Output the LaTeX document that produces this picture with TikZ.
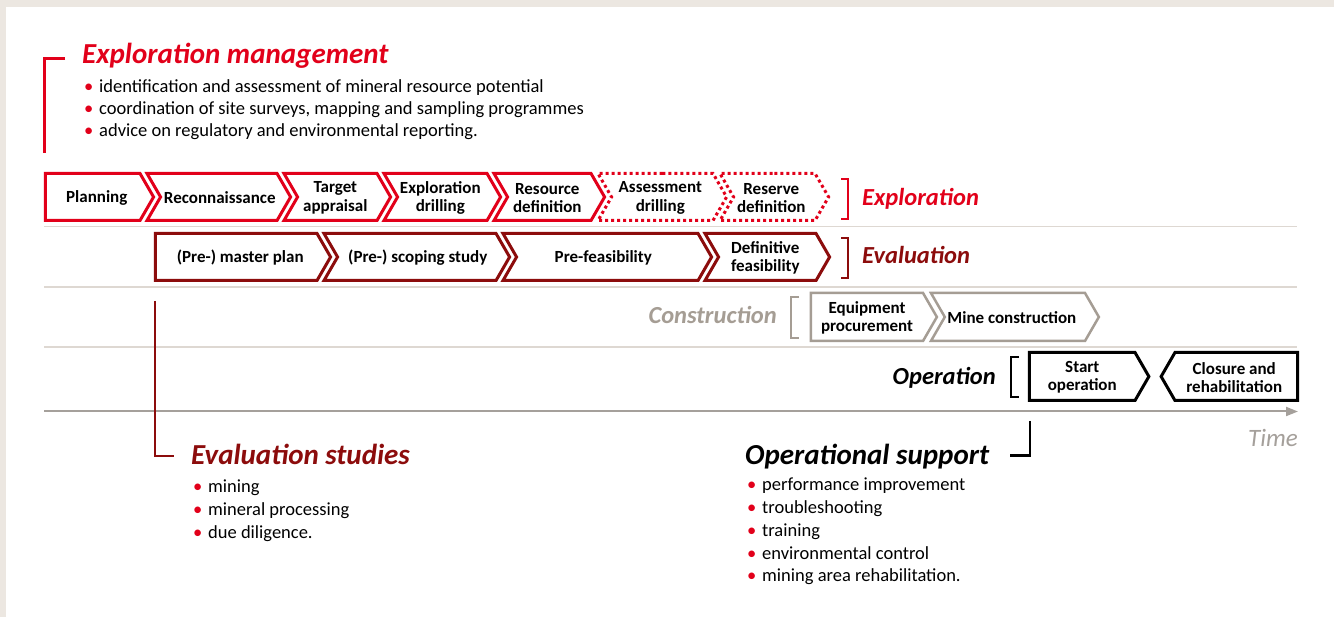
\documentclass[tikz,border=0pt]{standalone}
\usepackage{fontspec}
\setmainfont{Carlito}
\usepackage{tikz}
\usetikzlibrary{shapes.symbols,arrows.meta}

\definecolor{expred}{RGB}{226,0,26}
\definecolor{evalred}{RGB}{140,12,12}
\definecolor{congrey}{RGB}{165,157,148}
\definecolor{sepgrey}{RGB}{222,216,210}
\definecolor{axisgrey}{RGB}{165,160,155}
\definecolor{bgbeige}{RGB}{236,231,225}

\newcommand\bul{\makebox[15pt][l]{\textcolor{expred}{\textbullet}}}

\begin{document}
\begin{tikzpicture}[
        x=1pt, y=-1pt,
        stage/.style={signal, signal pointer angle=120, signal to=east,
            signal from=west, line width=3pt, fill=white, inner sep=0pt,
            minimum height=47pt},
        stagetext/.style={font=\bfseries\fontsize{17}{18.5}\selectfont,
            align=center, xshift=#1, yshift=-1pt},
        stagetext/.default=-2pt,
        expbox/.style={stage, draw=expred},
        expplan/.style={stage, draw=expred, dash pattern=on 3pt off 3pt},
        evalbox/.style={stage, draw=evalred},
        conbox/.style={stage, draw=congrey, line width=2.5pt, minimum height=48pt},
        opbox/.style={stage, draw=black, minimum height=48pt},
        heading/.style={font=\bfseries\itshape\fontsize{29}{30}\selectfont,
            anchor=base west, inner sep=0pt},
        rowlabel/.style={font=\bfseries\itshape\fontsize{24.5}{26}\selectfont,
            inner sep=0pt},
        bulletitem/.style={font=\fontsize{18.5}{22}\selectfont,
            anchor=base west, inner sep=0pt},
        brk/.style={line width=1.5pt},
        bigbrk/.style={line width=2.5pt},
        rowsep/.style={sepgrey, line width=1.5pt},
    ]
    \useasboundingbox (0,0) rectangle (1334,617);
    % frame
    \fill[bgbeige] (0,0) rectangle (1334,617);
    \fill[white] (6,7) rectangle (1334,617);

    % row separators and time axis
    \draw[rowsep] (44,226.5) -- (1297,226.5);
    \draw[rowsep] (44,287) -- (1297,287);
    \draw[rowsep] (44,347) -- (1297,347);
    \draw[axisgrey, line width=2pt, -{Triangle[length=12pt,width=9pt]}]
        (44,411.5) coordinate (axstart) -- (1298,411.5) coordinate (axend);
    \node[font=\itshape\fontsize{25}{26}\selectfont, anchor=base east,
        text=axisgrey, inner sep=0pt] (timelab) at (1298,447) {Time};

    % Exploration management
    \draw[bigbrk, expred] (65,58.5) coordinate (ems) -| (44.5,153) coordinate (eme);
    \node[heading, expred] (emhead) at (82,64) {Exploration management};
    \node[bulletitem] (em1) at (84,92.5)
        {\bul identification and assessment of mineral resource potential};
    \node[bulletitem] (em2) at (84,114.5)
        {\bul coordination of site surveys, mapping and sampling programmes};
    \node[bulletitem] (em3) at (84,136.5)
        {\bul advice on regulatory and environmental reporting.};

    % Exploration
    \node[expbox, signal from=nowhere, minimum width=108.1pt,
        label={[stagetext=4pt]center:Planning}] (plan) at (92.75,197) {};
    \node[expbox, minimum width=143.6pt,
        label={[stagetext=1pt]center:Reconnaissance}] (recon) at (218.8,197) {};
    \node[expbox, minimum width=106.6pt,
        label={[stagetext]center:Target\\appraisal}] (target) at (337.3,197) {};
    \node[expbox, minimum width=116.6pt,
        label={[stagetext]center:Exploration\\drilling}] (expdrill) at (442.3,197) {};
    \node[expbox, minimum width=110.6pt,
        label={[stagetext]center:Resource\\definition}] (resdef) at (549.3,197) {};
    \node[expplan, minimum width=128.6pt,
        label={[stagetext]center:Assessment\\drilling}] (assess) at (662.3,197) {};
    \node[expplan, minimum width=108.6pt,
        label={[stagetext=-3pt]center:Reserve\\definition}] (reserve) at (774.3,197) {};
    \draw[brk, expred] (841,179) -- (848,179) -- (848,219) -- (841,219);
    \node[rowlabel, anchor=base west, expred] (explab) at (862,206) {Exploration};

    % Evaluation
    \node[evalbox, signal from=nowhere, minimum width=175.1pt,
        label={[stagetext=4pt]center:(Pre-) master plan}] (master) at (236.25,257) {};
    \node[evalbox, minimum width=185.6pt,
        label={[stagetext=1pt]center:(Pre-) scoping study}] (scoping) at (416.8,257) {};
    \node[evalbox, minimum width=208.6pt,
        label={[stagetext=-4pt]center:Pre-feasibility}] (prefeas) at (607.3,257) {};
    \node[evalbox, minimum width=124.6pt,
        label={[stagetext]center:Definitive\\feasibility}] (deffeas) at (767.3,257) {};
    \draw[brk, evalred] (841,238) -- (848,238) -- (848,278) -- (841,278);
    \node[rowlabel, anchor=base west, evalred] (evallab) at (862,264) {Evaluation};

    % Construction
    \node[conbox, signal from=nowhere, minimum width=125.9pt,
        label={[stagetext=0pt]center:Equipment\\procurement}] (equip) at (867,317) {};
    \node[conbox, minimum width=167.9pt,
        label={[stagetext=-3pt]center:Mine construction}] (minecon) at (1014.9,317) {};
    \draw[brk, congrey] (799,297) -- (791,297) -- (791,338) -- (799,338);
    \node[rowlabel, anchor=base east, congrey] (conlab) at (777,324) {Construction};

    % Operation
    \node[opbox, signal from=nowhere, minimum width=119.4pt,
        label={[stagetext=0pt]center:Start\\operation}] (startop) at (1082.25,376.5) {};
    \node[opbox, signal to=west, signal from=nowhere, minimum width=136.4pt,
        label={[stagetext=-2pt]center:Closure and\\rehabilitation}] (closure) at (1236.25,376.5) {};
    \draw[brk] (1019,357) -- (1011,357) -- (1011,397) -- (1019,397);
    \node[rowlabel, anchor=base east] (oplab) at (996,385) {Operation};

    % Evaluation studies
    \draw[bigbrk, evalred] (155,301) coordinate (ess) |- (174,456) coordinate (ese);
    \node[heading, evalred] (eshead) at (191,465) {Evaluation studies};
    \node[bulletitem] (es1) at (193,493) {\bul mining};
    \node[bulletitem] (es2) at (193,515.5) {\bul mineral processing};
    \node[bulletitem] (es3) at (193,538) {\bul due diligence.};

    % Operational support
    \draw[bigbrk] (1030,421) coordinate (oss) |- (1010,455.5) coordinate (ose);
    \node[heading] (oshead) at (745,465) {Operational support};
    \node[bulletitem] (os1) at (747,491) {\bul performance improvement};
    \node[bulletitem] (os2) at (747,514) {\bul troubleshooting};
    \node[bulletitem] (os3) at (747,536.5) {\bul training};
    \node[bulletitem] (os4) at (747,559) {\bul environmental control};
    \node[bulletitem] (os5) at (747,581.5) {\bul mining area rehabilitation.};
\end{tikzpicture}
\end{document}
